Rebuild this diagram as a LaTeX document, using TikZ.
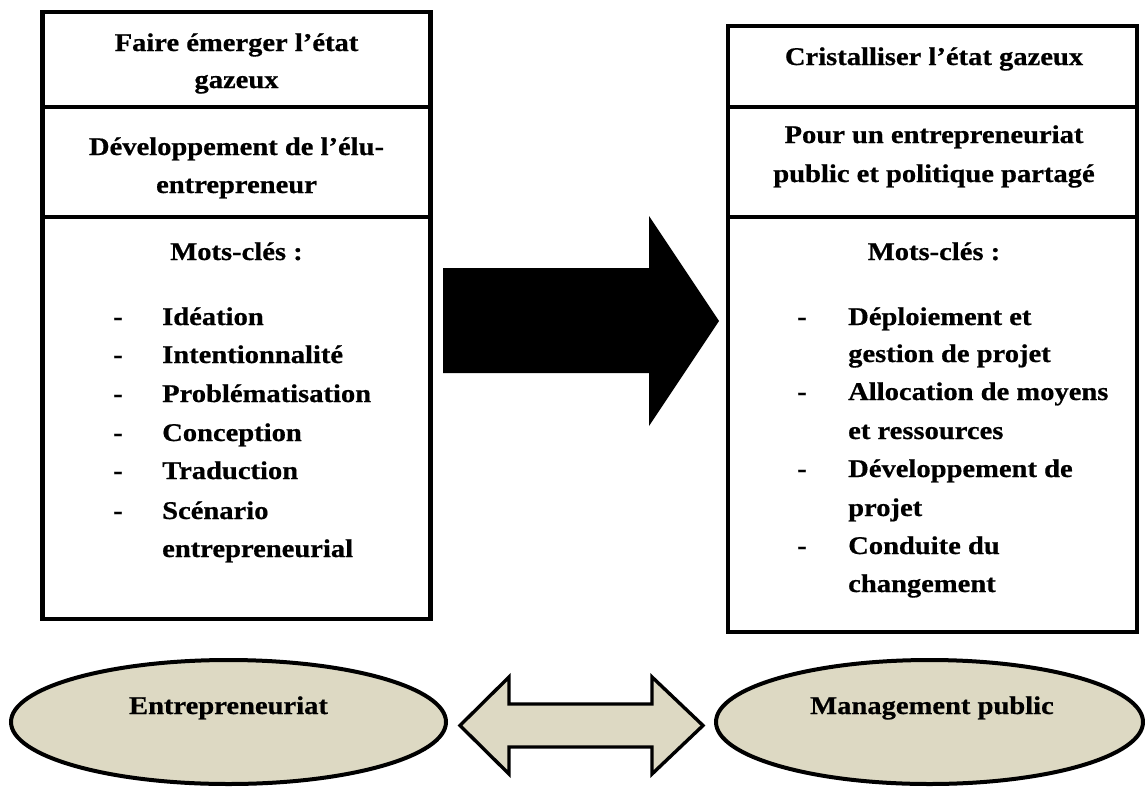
\documentclass[tikz,border=0pt]{standalone}
\usepackage{fontspec}
\setmainfont{Liberation Serif}[FakeStretch=1.12,FakeBold=0.6]
\usetikzlibrary{shapes.geometric}
\definecolor{beige}{HTML}{DDD9C3}
\tikzset{
  txt/.style={font=\bfseries\fontsize{25.5}{37}\selectfont, inner sep=0pt, anchor=base},
  txtl/.style={txt, anchor=base west},
  boxline/.style={draw=black, line width=4.6pt},
  divline/.style={draw=black, line width=4.2pt},
  ell/.style={ellipse, draw=black, line width=4pt, fill=beige, inner sep=0pt},
  bigarrow/.style={fill=black},
  dblarrow/.style={draw=black, line width=3.4pt, fill=beige, line join=miter},
}
\begin{document}
\begin{tikzpicture}[x=1pt,y=-1pt]
\useasboundingbox[fill=white] (0,0) rectangle (1145,787);

% boxes
\node[boxline, rectangle, minimum width=388pt, minimum height=607pt, inner sep=0pt] (L) at (236.5,315.5) {};
\node[boxline, rectangle, minimum width=409pt, minimum height=606pt, inner sep=0pt] (R) at (932.5,329) {};
\coordinate (L1a) at (42.5,107); \coordinate (L1b) at (430.5,107);
\coordinate (L2a) at (42.5,217); \coordinate (L2b) at (430.5,217);
\coordinate (R1a) at (728,107); \coordinate (R1b) at (1137,107);
\coordinate (R2a) at (728,217); \coordinate (R2b) at (1137,217);
\draw[divline] (L1a) -- (L1b);
\draw[divline] (L2a) -- (L2b);
\draw[divline] (R1a) -- (R1b);
\draw[divline] (R2a) -- (R2b);

% left headings
\node[txt] (lh1a) at (236.5,51) {Faire émerger l’état};
\node[txt] (lh1b) at (236.5,88) {gazeux};
\node[txt] (lh2a) at (236.5,155) {Développement de l’élu-};
\node[txt] (lh2b) at (236.5,193) {entrepreneur};
\node[txt] (lmc) at (236.5,260) {Mots-clés :};

% left list
\node[txt] (ld1) at (118,325) {-};
\node[txtl] (l1) at (162,325) {Idéation};
\node[txt] (ld2) at (118,363) {-};
\node[txtl] (l2) at (162,363) {Intentionnalité};
\node[txt] (ld3) at (118,402) {-};
\node[txtl] (l3) at (162,402) {Problématisation};
\node[txt] (ld4) at (118,441) {-};
\node[txtl] (l4) at (162,441) {Conception};
\node[txt] (ld5) at (118,479) {-};
\node[txtl] (l5) at (162,479) {Traduction};
\node[txt] (ld6) at (118,519) {-};
\node[txtl] (l6) at (162,519) {Scénario};
\node[txtl] (l7) at (162,557) {entrepreneurial};

% right headings
\node[txt] (rh1) at (934,65) {Cristalliser l’état gazeux};
\node[txt] (rh2a) at (934,143) {Pour un entrepreneuriat};
\node[txt] (rh2b) at (934,182) {public et politique partagé};
\node[txt] (rmc) at (934,260) {Mots-clés :};

% right list
\node[txt] (rd1) at (802,325) {-};
\node[txtl] (r1) at (848,325) {Déploiement et};
\node[txtl] (r2) at (848,362) {gestion de projet};
\node[txt] (rd3) at (802,400) {-};
\node[txtl] (r3) at (848,400) {Allocation de moyens};
\node[txtl] (r4) at (848,439) {et ressources};
\node[txt] (rd5) at (802,477) {-};
\node[txtl] (r5) at (848,477) {Développement de};
\node[txtl] (r6) at (848,516) {projet};
\node[txt] (rd7) at (802,554) {-};
\node[txtl] (r7) at (848,554) {Conduite du};
\node[txtl] (r8) at (848,592) {changement};

% big black arrow
\fill[bigarrow] (443,268) -- (649,268) -- (649,216) -- (719,321) -- (649,426) -- (649,373) -- (443,373) -- cycle;

% ellipses
\node[ell, minimum width=435pt, minimum height=124pt] (EL) at (228.5,722) {};
\node[ell, minimum width=427pt, minimum height=124pt] (ER) at (929.5,722) {};
\node[txt] (elt) at (228.5,714) {Entrepreneuriat};
\node[txt] (ert) at (932,714) {Management public};

% double arrow
\draw[dblarrow] (460,725.5) -- (509,677) -- (509,704) -- (652,704) -- (652,677) -- (703,725.5) -- (652,774) -- (652,747) -- (509,747) -- (509,774) -- cycle;
\end{tikzpicture}
\end{document}
